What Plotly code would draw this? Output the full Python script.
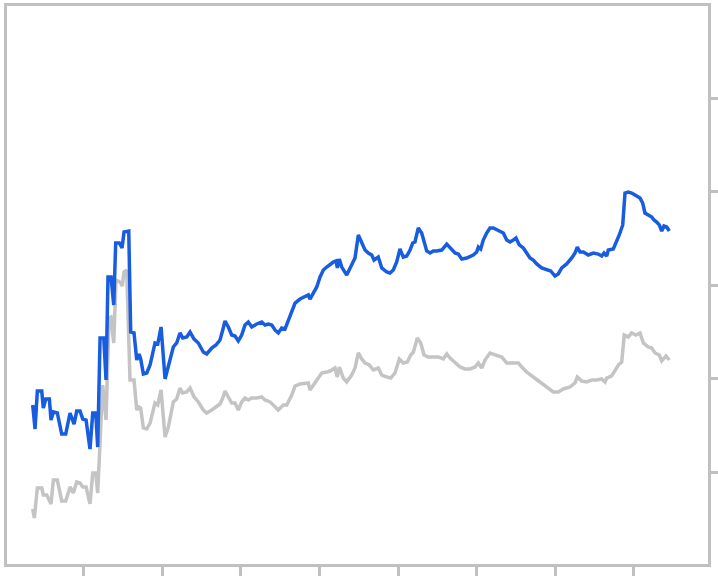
import plotly.graph_objects as go

# Time in years from series origin; values in index points
blue_x = [0.352,0.382,0.411,0.467,0.487,0.518,0.564,0.585,0.615,0.665,0.721,0.772,0.827,0.878,0.912,0.954,0.989,1.031,1.081,1.116,
          1.154,1.179,1.209,1.256,1.285,1.310,1.349,1.383,1.408,1.454,1.489,1.514,1.574,1.599,1.641,1.676,1.705,1.726,1.760,1.803,
          1.845,1.908,1.943,1.985,2.036,2.078,2.141,2.184,2.226,2.261,2.312,2.354,2.405,2.459,2.523,2.566,2.630,2.684,2.735,2.770,
          2.799,2.841,2.884,2.926,2.968,3.011,3.053,3.095,3.139,3.202,3.266,3.308,3.350,3.393,3.435,3.477,3.520,3.562,3.604,3.648,
          3.690,3.753,3.817,3.859,3.880,3.922,3.966,4.008,4.050,4.093,4.135,4.177,4.211,4.228,4.253,4.284,4.347,4.389,4.453,4.495,
          4.538,4.580,4.622,4.665,4.695,4.749,4.793,4.856,4.898,4.940,4.983,5.025,5.067,5.111,5.153,5.187,5.216,5.258,5.301,5.331,
          5.365,5.407,5.449,5.492,5.556,5.620,5.662,5.725,5.767,5.811,5.874,5.958,6.001,6.022,6.052,6.085,6.128,6.170,6.212,6.256,
          6.298,6.340,6.383,6.425,6.467,6.501,6.543,6.594,6.637,6.679,6.721,6.765,6.828,6.892,6.943,6.997,7.039,7.083,7.146,7.210,
          7.252,7.281,7.316,7.358,7.421,7.485,7.548,7.592,7.621,7.655,7.676,7.739,7.782,7.815,7.859,7.879,7.888,7.930,7.973,8.015,
          8.079,8.113,8.142,8.184,8.228,8.257,8.291,8.324,8.355,8.384,8.419,8.452]
blue_y = [171.7,146.0,186.6,186.6,168.4,178.1,178.1,155.6,164.2,163.1,140.6,140.6,163.1,151.3,165.2,165.2,156.7,155.6,124.6,163.1,
          163.1,126.7,243.3,243.3,198.4,308.6,308.6,278.6,344.9,344.9,339.6,356.7,357.7,249.7,248.7,219.8,226.2,220.9,204.8,205.9,
          214.4,238.0,236.9,255.1,199.5,212.3,233.7,238.0,248.7,243.3,244.4,249.7,242.2,238.0,228.3,226.2,232.6,235.8,241.2,251.9,
          261.5,255.1,246.5,245.4,240.1,246.5,257.2,260.4,255.1,258.3,260.4,257.2,258.3,257.2,251.9,248.7,254.0,252.9,262.6,271.1,
          280.7,285.0,288.2,289.3,285.0,291.4,297.9,308.6,316.0,319.2,322.5,324.6,325.7,318.2,327.8,319.2,310.7,318.2,328.9,353.5,
          344.9,337.4,334.2,332.1,326.7,329.9,318.2,313.9,312.8,316.0,324.6,338.5,329.9,331.0,337.4,344.9,346.0,361.0,355.6,344.9,
          336.4,334.2,336.4,336.4,337.4,343.8,339.6,334.2,333.1,327.8,328.9,332.1,335.3,340.6,338.5,348.1,355.6,361.0,361.0,358.8,
          356.7,355.6,348.1,346.0,348.1,350.3,342.8,339.6,334.2,328.9,326.7,322.5,318.2,316.0,315.0,309.6,311.8,318.2,322.5,328.9,
          334.2,340.6,335.3,335.3,332.1,334.2,333.1,331.0,334.2,331.0,337.4,338.5,346.0,353.5,364.2,383.4,398.4,399.5,398.4,396.2,
          393.0,387.7,377.0,374.9,372.7,369.5,367.4,364.2,357.7,363.1,362.0,357.7]

gray_x = [0.352,0.373,0.411,0.467,0.487,0.531,0.585,0.615,0.665,0.721,0.772,0.827,0.869,0.912,0.954,0.989,1.031,1.081,1.116,1.154,
          1.179,1.209,1.243,1.285,1.323,1.349,1.383,1.412,1.463,1.492,1.514,1.548,1.590,1.641,1.676,1.705,1.726,1.760,1.803,1.845,
          1.908,1.943,1.985,2.036,2.078,2.141,2.184,2.226,2.261,2.312,2.354,2.405,2.459,2.523,2.566,2.630,2.684,2.735,2.770,2.799,
          2.841,2.884,2.926,2.968,3.011,3.053,3.095,3.139,3.202,3.266,3.308,3.372,3.413,3.477,3.541,3.584,3.648,3.690,3.753,3.817,
          3.859,3.880,3.922,3.986,4.029,4.093,4.135,4.198,4.228,4.253,4.304,4.347,4.411,4.453,4.495,4.538,4.580,4.635,4.686,4.749,
          4.793,4.856,4.907,4.962,5.017,5.067,5.118,5.162,5.195,5.246,5.289,5.331,5.385,5.449,5.513,5.576,5.620,5.662,5.725,5.789,
          5.852,5.916,5.980,6.022,6.065,6.107,6.170,6.256,6.319,6.383,6.467,6.531,6.574,6.637,6.721,6.807,6.892,6.976,7.039,7.103,
          7.188,7.252,7.281,7.337,7.401,7.464,7.528,7.592,7.634,7.655,7.719,7.761,7.803,7.846,7.879,7.930,7.973,8.028,8.079,8.121,
          8.184,8.228,8.270,8.324,8.355,8.410,8.452]
gray_y = [60.4,50.8,82.9,82.9,75.4,75.4,65.8,91.4,91.4,69.0,69.0,84.0,77.5,89.3,88.2,84.0,84.0,65.8,98.9,98.9,
          77.5,137.4,193.0,155.6,264.7,265.8,238.0,305.3,303.2,298.9,313.9,316.0,198.4,198.4,166.3,169.5,168.4,147.1,146.0,152.4,
          173.8,171.7,187.7,137.4,148.1,174.9,178.1,189.8,184.5,185.6,189.8,180.2,174.9,166.3,163.1,166.3,169.5,172.7,179.1,186.6,
          180.2,173.8,173.8,166.3,174.9,179.1,177.0,179.1,179.1,180.2,177.0,174.9,171.7,166.3,171.7,171.7,182.3,192.0,194.1,195.2,
          195.2,187.7,193.0,200.5,205.9,206.9,208.0,211.2,201.6,212.3,200.5,196.3,203.7,211.2,227.3,220.9,216.6,214.4,209.1,211.2,
          203.7,201.6,200.5,205.9,220.9,216.6,217.6,225.1,228.3,243.3,238.0,225.1,223.0,223.0,223.0,220.9,226.2,221.9,216.6,212.3,
          210.2,210.2,212.3,216.6,211.2,219.8,227.3,225.1,223.0,216.6,216.6,216.6,212.3,206.9,201.6,196.3,190.9,185.6,185.6,188.8,
          190.9,195.2,201.6,197.3,196.3,198.4,198.4,199.5,196.3,200.5,202.7,209.1,214.4,217.6,246.5,244.4,248.7,246.5,248.7,238.0,
          233.7,232.6,227.3,225.1,218.7,224.1,219.8]

BLUE = "#185ce0"
GRAY = "#c4c4c4"
FRAME = "#c0c0c0"

fig = go.Figure()
fig.add_trace(go.Scatter(x=gray_x, y=gray_y, mode="lines",
                         line=dict(color=GRAY, width=3.5), showlegend=False, hoverinfo="skip"))
fig.add_trace(go.Scatter(x=blue_x, y=blue_y, mode="lines",
                         line=dict(color=BLUE, width=3.5), showlegend=False, hoverinfo="skip"))

fig.update_layout(
    width=718, height=576,
    margin=dict(l=7, r=10, t=6, b=12, autoexpand=False),
    paper_bgcolor="white", plot_bgcolor="white",
    xaxis=dict(range=[0.025, 8.944], tick0=0, dtick=1, showgrid=False, zeroline=False, automargin=False,
               showticklabels=False, ticks="outside", ticklen=11, tickwidth=3, tickcolor=FRAME,
               showline=True, linecolor=FRAME, linewidth=3, mirror=True),
    yaxis=dict(range=[1.6, 598.4], tick0=0, dtick=100, side="right", showgrid=False, zeroline=False,
               automargin=False,
               showticklabels=False, ticks="outside", ticklen=9, tickwidth=3, tickcolor=FRAME,
               showline=True, linecolor=FRAME, linewidth=3, mirror=True),
)

fig.write_html("out.html", config={"displayModeBar": False},
               post_script="document.body.style.margin='0';document.body.style.overflow='hidden';")
